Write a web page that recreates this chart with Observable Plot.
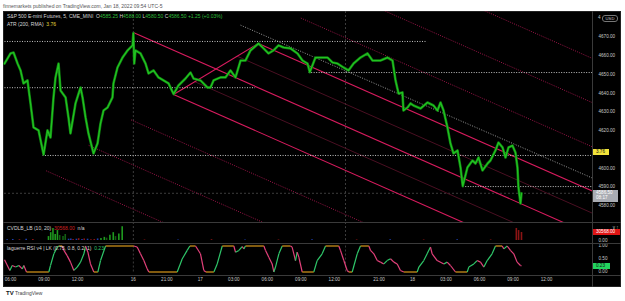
<!DOCTYPE html>
<html><head><meta charset="utf-8">
<script src="https://cdn.jsdelivr.net/npm/d3@7"></script>
<script src="https://cdn.jsdelivr.net/npm/@observablehq/plot@0.6"></script>
<style>
body{margin:0;background:#fff;font-family:"Liberation Sans",Arial,sans-serif;}
#wrap{position:relative;width:625px;height:301px;overflow:hidden;background:#fff}
.abs{position:absolute;white-space:nowrap}
.t{font-size:5px;line-height:6px}
</style></head><body>
<div id="wrap"></div>
<script>
// ---------- DATA ----------
// time axis: trading hours since Fri Jan 14 06:00 ET (session breaks removed)
const tickHours  = [0, 3, 6, 11, 14, 17, 20, 23, 26, 29, 33, 36, 39, 42, 45, 48];
const tickLabels = ["06:00","09:00","12:00","16","21:00","17","03:00","06:00","09:00","12:00","21:00","18","03:00","06:00","09:00","12:00"];
const sessionStarts = [11, 30];

// ES price path (5m closes)
const priceHours = [-0.54,0.0,0.27,0.63,0.90,1.16,1.52,1.79,2.06,2.51,2.96,3.31,3.58,3.85,4.03,4.30,4.48,4.93,5.19,5.37,5.82,6.27,6.45,6.72,6.98,7.43,7.79,8.06,8.33,8.69,9.13,9.22,9.58,10.03,10.48,10.93,
 11.0,11.08,11.19,11.64,12.09,12.36,12.81,13.25,13.70,14.15,14.60,15.04,15.67,16.12,16.39,17.01,17.64,17.91,18.18,18.81,19.25,19.70,20.15,20.60,21.04,21.49,22.21,22.66,23.10,23.55,24.00,24.45,25.07,25.70,26.15,26.60,26.80,27.31,27.76,28.39,28.83,29.28,29.82,
 30.27,30.72,31.34,31.97,32.42,33.13,33.76,34.21,34.48,34.75,35.10,35.19,35.55,35.82,36.09,36.72,37.34,37.88,38.24,38.51,38.78,39.13,39.40,39.67,40.03,40.30,40.50,40.92,41.37,41.64,41.91,42.27,42.72,42.98,43.43,43.70,44.06,44.33,44.60,44.95,45.22,45.40,45.49,45.67,45.76];
const priceClose = [4655.8,4661.2,4661.7,4655.8,4652.1,4645.2,4646.8,4634.5,4621.7,4620.1,4607.2,4620.1,4616.3,4637.7,4648.4,4655.8,4641.4,4637.7,4627.0,4618.5,4634.5,4643.0,4637.7,4627.0,4618.5,4607.8,4613.1,4623.8,4630.7,4632.3,4637.7,4645.2,4653.7,4659.0,4662.8,4665.5,
 4672.0,4655.8,4662.8,4661.2,4655.8,4650.5,4652.1,4648.4,4646.8,4645.2,4639.5,4644.1,4647.8,4651.0,4647.8,4646.8,4643.0,4643.0,4646.8,4648.4,4648.4,4652.1,4648.4,4657.4,4657.4,4662.8,4666.5,4663.9,4661.2,4662.8,4665.5,4664.4,4663.9,4661.2,4657.4,4655.8,4651.2,4659.0,4659.0,4659.0,4656.4,4655.8,4653.7,
 4652.1,4655.8,4659.0,4661.2,4657.4,4657.4,4659.0,4657.4,4646.8,4639.8,4640.4,4630.7,4632.3,4634.5,4633.4,4631.8,4635.0,4633.4,4630.7,4635.0,4630.7,4621.7,4613.1,4607.8,4609.4,4600.3,4590.3,4600.3,4604.0,4602.4,4605.6,4598.7,4602.4,4604.0,4609.4,4613.6,4611.0,4605.6,4611.0,4612.0,4608.3,4600.3,4589.6,4581.1,4586.5];
const lastPrice = 4586.5;
const priceTicks = [4580,4590,4600,4620,4630,4640,4650,4660,4670];

// horizontal dotted levels (price, start hour, end hour; null = right edge)
const levelPrice = [4667.6, 4642.9, 4651.0, 4606.7, 4590.1];
const levelStart = [-0.54, -0.54, 26.7, 2.87, 40.5];
const levelEnd   = [37.3, 21.9, null, null, null];

// grey dotted trend line (two anchor points)
const trendHours = [20.6, 52.12];
const trendPrice = [4676.3, 4594.6];

// pitchfork anchors A, B, C
const pfHours = [11.0, 14.6, 22.2];
const pfPrice = [4672.4, 4639.3, 4666.5];
const pfLevels = [-4, -3, -2, -1, -0.5, 0, 0.5, 1, 2, 3, 4];

// CVDLB histogram
const cvdHours = [-0.3,0.2,0.8,1.4,2.0,3.4,3.6,3.8,4.0,4.2,4.4,4.7,4.9,5.2,5.4,5.6,5.9,6.1,6.4,6.6,6.9,7.2,7.5,7.8,8.1,8.4,8.6,8.9,9.2,9.4,9.7,10.0,12,15,18,21,24,27,31,34,37,40,43,45.3,45.5,45.76];
const cvdValue = [3000,4000,3000,5000,4000,15000,30000,46000,23000,38000,19000,15000,23000,5000,6000,4000,5000,7000,4000,6000,5000,3000,4000,6000,8000,12000,9000,20000,30000,15000,25000,53000,2000,2000,3000,2000,2000,3000,2000,3000,2000,3000,2000,46000,38000,30568];
const cvdColor = ["b","b","r","b","r","g","g","g","g","g","dg","dg","dg","b","b","r","b","r","b","r","b","r","r","b","g","g","dg","g","g","dg","g","g","r","b","r","b","r","b","r","b","r","b","r","r","r","r"];

// Laguerre RSI
const rsiHours = [-0.54,-0.06,0.15,0.45,0.75,1.05,1.19,1.43,3.43,3.58,3.88,4.18,4.33,4.63,4.78,5.07,5.37,5.67,5.97,6.27,6.57,6.72,6.93,7.16,7.46,7.82,8.06,8.51,11.04,11.34,11.64,11.94,12.24,12.39,14.93,15.37,15.82,16.06,16.57,17.01,17.31,17.5,18.21,18.51,18.96,20.0,20.15,20.45,20.75,20.9,21.04,22.69,22.84,23.13,23.43,23.58,23.73,24.03,24.33,25.07,25.22,25.52,25.67,25.82,26.12,27.16,27.46,27.91,28.21,29.40,29.55,29.85,30.15,30.30,30.60,31.05,31.34,32.09,32.24,32.54,32.84,33.13,33.43,33.73,34.03,34.33,34.63,34.92,35.22,36.42,36.57,37.01,37.31,37.61,37.76,38.21,38.81,39.10,39.40,39.85,40.90,41.04,41.49,41.79,42.09,42.39,42.69,43.13,43.43,44.03,44.18,44.48,44.77,45.07,45.37,45.67,45.76];
const rsiValue = [0.47,0.06,0.25,0.19,0.25,0.12,0.25,0,0,0.25,0.70,0.95,1,1,0.83,0.63,0.38,0.06,0.19,0.38,0.70,1,0.76,0.31,0,0,0.44,1,1,0.96,0.70,0.44,0.12,0,0,0.5,0.83,1,1,0.70,0.06,0,0,0.31,1,1,0.76,0.83,0.98,0.89,1,1,0.83,0.57,0.31,0,0.19,0.70,1,1,0.96,0.44,0.76,0.57,0,0,0.44,0.70,1,1,0.83,0.44,0.06,0,0,0.70,1,1,0.83,0.70,0.44,0.38,0.31,0.44,0.51,0.38,0.31,0.06,0,0,0.19,0.44,0.70,0.96,0.70,0.44,0.31,0.38,0.25,0,0,0.19,0.31,0.44,0.38,0.19,0.44,0.70,1,1,0.89,1,0.83,0.70,0.38,0.25,0.23];
const lastRsi = 0.23;

// ---------- LAYOUT ----------
const wrap = document.getElementById("wrap");
function div(css, html, cls) { const d = document.createElement("div"); d.className = "abs " + (cls||""); d.style.cssText = css; if (html) d.innerHTML = html; wrap.appendChild(d); return d; }

const PANE_L = 4, PANE_R = 592, RIGHT = 621;
const W = RIGHT - PANE_L, MR = RIGHT - PANE_R;
const tMin = -0.54, tMax = 52.12;
const font = "Liberation Sans, Arial, sans-serif";

div("left:3px;top:11px;width:618px;height:276px;background:#000;border:1px solid #222;box-sizing:border-box");
div("left:3px;top:3px;color:#555", "finnemarkets published on TradingView.com, Jan 18, 2022 09:54 UTC-5", "t");

// main pane
const mainRows = priceHours.map((t, i) => ({t, p: priceClose[i]}));
const levels = levelPrice.map((p, i) => ({p, t0: levelStart[i], t1: levelEnd[i] ?? tMax}));
const A = {t: pfHours[0], p: pfPrice[0]}, B = {t: pfHours[1], p: pfPrice[1]}, C = {t: pfHours[2], p: pfPrice[2]};
const M = {t: (B.t + C.t) / 2, p: (B.p + C.p) / 2};
const dir = {t: M.t - A.t, p: M.p - A.p};
const pfLines = pfLevels.map(L => {
  const s = L === 0 ? A : {t: M.t + L * (B.t - M.t), p: M.p + L * (B.p - M.p)};
  const k = (tMax - s.t) / dir.t;
  const kind = (Math.abs(L) === 1 || L === 0) ? "solid" : (Math.abs(L) === 0.5 ? "dim" : "dot");
  return {t0: s.t, p0: s.p, t1: s.t + k * dir.t, p1: s.p + k * dir.p, kind};
});
const trend = [{t0: trendHours[0], p0: trendPrice[0], t1: trendHours[1], p1: trendPrice[1]}];

const mainPlot = Plot.plot({
  width: W, height: 211, marginLeft: 0, marginRight: MR, marginTop: 0, marginBottom: 0,
  style: {background: "transparent", color: "#c8c8c8", fontSize: "4.6px", fontFamily: font, overflow: "visible"},
  x: {domain: [tMin, tMax], axis: null},
  y: {domain: [4570.9, 4683.6], axis: null},
  marks: [
    Plot.ruleX(sessionStarts, {stroke: "#4a4a4a", strokeDasharray: "2,2", strokeWidth: 0.8}),
    Plot.ruleY([lastPrice], {stroke: "#4d4d4d", strokeDasharray: "2,2", strokeWidth: 0.8}),
    Plot.link(pfLines.filter(d => d.kind === "dim"), {x1: "t0", y1: "p0", x2: "t1", y2: "p1", stroke: "#4a0f22", strokeWidth: 1, clip: true}),
    Plot.link(pfLines.filter(d => d.kind === "dot"), {x1: "t0", y1: "p0", x2: "t1", y2: "p1", stroke: "#9c1448", strokeWidth: 1, strokeDasharray: "1,1.3", clip: true}),
    Plot.link(pfLines.filter(d => d.kind === "solid"), {x1: "t0", y1: "p0", x2: "t1", y2: "p1", stroke: "#d81b5e", strokeWidth: 1.1, clip: true}),
    Plot.link([{t0: B.t, p0: B.p, t1: C.t, p1: C.p}], {x1: "t0", y1: "p0", x2: "t1", y2: "p1", stroke: "#d81b5e", strokeWidth: 1.1}),
    Plot.link(trend, {x1: "t0", y1: "p0", x2: "t1", y2: "p1", stroke: "#9a9a9a", strokeWidth: 1, strokeDasharray: "1,1.5", clip: true}),
    Plot.link(levels, {x1: "t0", x2: "t1", y1: "p", y2: "p", stroke: "#d8d8d8", strokeWidth: 0.9, strokeDasharray: "1,1.5"}),
    Plot.line(mainRows, {x: "t", y: "p", stroke: "#0f7d0f", strokeWidth: 2.6, curve: "linear"}),
    Plot.line(mainRows, {x: "t", y: "p", stroke: "#22c322", strokeWidth: 1.3, curve: "linear"}),
    Plot.axisY(priceTicks, {anchor: "right", tickSize: 0, tickPadding: 6, tickFormat: d => d.toFixed(2)})
  ]
});
const mainDiv = div("left:" + PANE_L + "px;top:11px");
mainDiv.appendChild(mainPlot);
const yMain = mainPlot.scale("y");

// CVDLB pane
const cvdRows = cvdHours.map((t, i) => ({t, v: cvdValue[i], c: cvdColor[i]}));
const cvdPlot = Plot.plot({
  width: W, height: 21, marginLeft: 0, marginRight: MR, marginTop: 0, marginBottom: 3,
  style: {background: "transparent", color: "#c8c8c8", fontSize: "4.6px", fontFamily: font},
  x: {domain: [tMin, tMax], axis: null},
  y: {domain: [0, 68778], axis: null},
  color: {domain: ["g","dg","b","r"], range: ["#1f9a1f","#135f13","#1d3fb0","#8b1414"]},
  marks: [
    Plot.ruleX(sessionStarts, {stroke: "#4a4a4a", strokeDasharray: "2,2", strokeWidth: 0.8}),
    Plot.ruleX(cvdRows, {x: "t", y1: 0, y2: "v", stroke: "c", strokeWidth: 1.6}),
    Plot.axisY([0], {anchor: "right", tickSize: 0, tickPadding: 6, tickFormat: d => d.toFixed(2)})
  ]
});
div("left:" + PANE_L + "px;top:222px").appendChild(cvdPlot);
const yCvd = cvdPlot.scale("y");

// RSI pane + time axis
const segs = [];
for (let i = 0; i < rsiHours.length - 1; i++) {
  const a = rsiValue[i], b = rsiValue[i + 1];
  segs.push({t0: rsiHours[i], v0: a, t1: rsiHours[i + 1], v1: b, c: b > a ? "up" : (b < a ? "down" : "flat")});
}
const rsiPlot = Plot.plot({
  width: W, height: 44, marginLeft: 0, marginRight: MR, marginTop: 2.5, marginBottom: 15.5,
  style: {background: "transparent", color: "#c8c8c8", fontSize: "4.6px", fontFamily: font},
  x: {domain: [tMin, tMax]},
  y: {domain: [0, 1], axis: null},
  color: {domain: ["up","down","flat"], range: ["#2fc76a","#e2407a","#d9981a"]},
  marks: [
    Plot.ruleX(sessionStarts, {stroke: "#4a4a4a", strokeDasharray: "2,2", strokeWidth: 0.8, y1: 0, y2: 1}),
    Plot.link(segs, {x1: "t0", y1: "v0", x2: "t1", y2: "v1", stroke: "c", strokeWidth: 1.2}),
    Plot.axisY([0, 0.5, 1], {anchor: "right", tickSize: 0, tickPadding: 6, tickFormat: d => d.toFixed(2)}),
    Plot.axisX(tickHours, {anchor: "bottom", tickSize: 0, tickPadding: 6, tickFormat: d => tickLabels[tickHours.indexOf(d)]})
  ]
});
div("left:" + PANE_L + "px;top:243px").appendChild(rsiPlot);
const yRsi = rsiPlot.scale("y");

// separators
div("left:3px;top:222px;width:618px;height:1px;background:#3a3a3a");
div("left:3px;top:243px;width:618px;height:1px;background:#3a3a3a");
div("left:3px;top:275px;width:618px;height:1px;background:#3a3a3a");
div("left:592px;top:11px;width:1px;height:276px;background:#3a3a3a");

// legends
const G = "#2fbf3a";
div("left:7px;top:13px;color:#d6d6d6", "S&amp;P 500 E-mini Futures, 5, CME_MINI&nbsp; O<span style='color:"+G+"'>4585.25</span> H<span style='color:"+G+"'>4588.00</span> L<span style='color:"+G+"'>4580.50</span> C<span style='color:"+G+"'>4586.50</span> <span style='color:"+G+"'>+1.25 (+0.03%)</span>", "t");
div("left:7px;top:21px;color:#d6d6d6", "ATR (200, RMA)&nbsp; <span style='color:#e8d83a'>3.76</span>", "t");
div("left:7px;top:225px;color:#d6d6d6", "CVDLB_LB (10, 20)&nbsp; <span style='color:#d02020'>30568.00</span>&nbsp; n/a", "t");
div("left:7px;top:245px;color:#d6d6d6", "laguerre RSI v4 | LK (0.75, 0.8, 0.2, 1)&nbsp; <span style='color:#2fc76a'>0.23</span>", "t");

// price-scale labels
const yTop = 11 + yMain.apply(4680);
div("left:598px;top:" + (yTop - 3) + "px;color:#c8c8c8;font-size:4.6px;line-height:6px", "4");
div("left:602px;top:" + (yTop - 3) + "px;width:14px;height:5px;border:0.6px solid #777;border-radius:3px;background:#000;color:#ccc;font-size:4.2px;line-height:5px;text-align:center", "USD");
div("left:593px;top:149px;width:16px;height:6px;background:#f2e33a;color:#111;font-size:4.6px;line-height:6px;padding-left:3px;box-sizing:border-box", "3.76");
const yp = 11 + yMain.apply(lastPrice);
div("left:593px;top:" + (yp - 3) + "px;width:25px;height:12px;background:#a9acb3;color:#fff;font-size:4.6px;line-height:5.6px;padding-left:3px;box-sizing:border-box", "4586.50<br>08:17");
const yc = 222 + yCvd.apply(30568);
div("left:593px;top:" + (yc - 3) + "px;width:27px;height:6px;background:#e01515;color:#fff;font-size:4.6px;line-height:6px;padding-left:3px;box-sizing:border-box", "30568.00");
const yr = 243 + yRsi.apply(lastRsi);
div("left:593px;top:" + (yr - 3) + "px;width:17px;height:6px;background:#22d45e;color:#111;font-size:4.6px;line-height:6px;padding-left:3px;box-sizing:border-box", "0.23");

// footer
div("left:6px;top:290px;color:#444;font-size:5px", "<b style='color:#131722;font-size:6px'>TV</b> TradingView");
</script>
</body></html>
